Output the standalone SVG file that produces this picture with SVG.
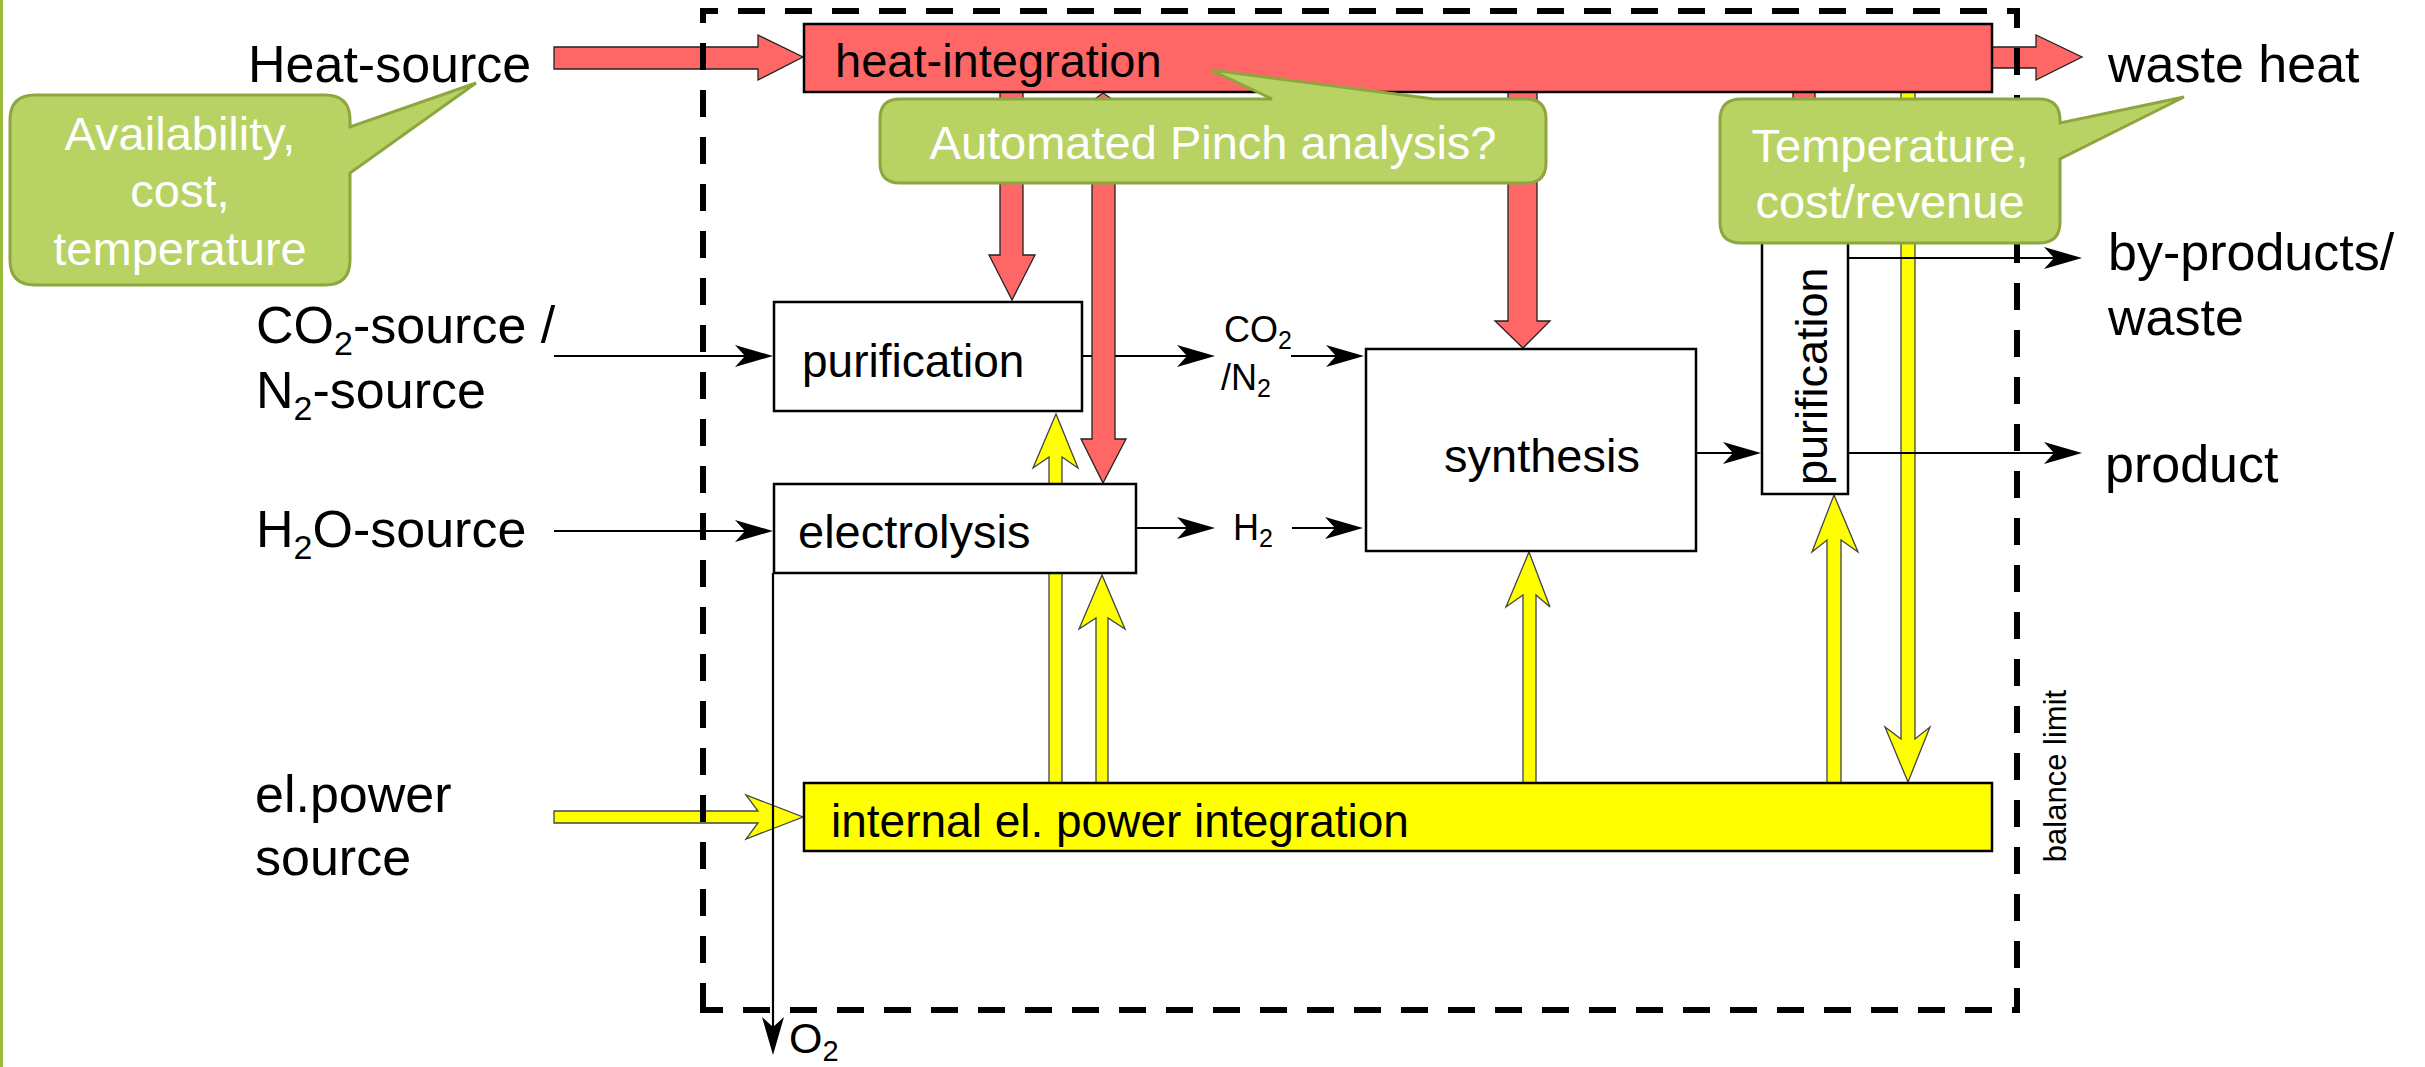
<svg xmlns="http://www.w3.org/2000/svg" width="2425" height="1067" viewBox="0 0 2425 1067">
<style>
  text { font-family: "Liberation Sans", Arial, sans-serif; fill: #000; }
  .lbl { font-size: 52px; }
  .box { fill: #fff; stroke: #000; stroke-width: 2.5; }
  .boxt { font-size: 47px; }
  .heat { fill: #ff6666; stroke: #222; stroke-width: 1.3; }
  .elec { fill: #ffff00; stroke: #444; stroke-width: 1.3; }
  .line { fill: none; stroke: #000; stroke-width: 2.2; marker-end: url(#ah); }
  .small { font-size: 36px; }
  .callout { fill: #b9d264; stroke: #8ea63f; stroke-width: 3; }
  .ct { fill: #fff; font-size: 47px; text-anchor: middle; }
</style>
<defs>
  <marker id="ah" markerUnits="userSpaceOnUse" markerWidth="60" markerHeight="30" viewBox="-50 -15 60 30" refX="-8" refY="0" orient="auto" overflow="visible">
    <path d="M0,0 L-38,-11 L-28,0 L-38,11 Z" fill="#000"/>
  </marker>
</defs>
<rect x="0" y="0" width="3" height="1067" fill="#9cbb3c"/>

<g id="connectors">
  <!-- electric power flows -->
  <polygon class="elec" points="554,811 758,811 746,795 803,817 746,839 758,823 554,823"/>
  <polygon class="elec" points="1049,783 1049,457 1033,468 1056,414 1078,468 1062,457 1062,783"/>
  <polygon class="elec" points="1096,783 1096,618 1079,629 1102,575 1125,629 1108,618 1108,783"/>
  <polygon class="elec" points="1523,783 1523,595 1506,607 1529,552 1550,607 1536,595 1536,783"/>
  <polygon class="elec" points="1827,783 1827,540 1812,552 1834,495 1858,552 1841,540 1841,783"/>
  <polygon class="elec" points="1901,92 1901,739 1885,727 1908,782 1930,727 1915,739 1915,92"/>
  <!-- material flows -->
  <path class="line" d="M554,356 H765"/>
  <path class="line" d="M554,531 H765"/>
  <path class="line" d="M1082,356 H1207"/>
  <path class="line" d="M1291,356 H1356"/>
  <path class="line" d="M1136,528 H1207"/>
  <path class="line" d="M1292,528 H1355"/>
  <path class="line" d="M1696,453 H1753"/>
  <path class="line" d="M1848,453 H2074"/>
  <path class="line" d="M1848,258 H2074"/>
  <path class="line" d="M773,573 V1047"/>
  <!-- heat flows -->
  <polygon class="heat" points="554,47 758,47 758,35 803,57 758,80 758,69 554,69"/>
  <polygon class="heat" points="1992,47 2036,47 2036,35 2082,57 2036,80 2036,68 1992,68"/>
  <polygon class="heat" points="1000,92 1000,255 989,255 1012,300 1035,255 1023,255 1023,92"/>
  <polygon class="heat" points="1092,439 1092,101 1103,93 1115,101 1115,439 1126,439 1103,483 1081,439"/>
  <polygon class="heat" points="1508,92 1508,321 1495,321 1523,348 1550,321 1537,321 1537,92"/>
  <polygon class="heat" points="1793,92 1793,236 1815,236 1815,92"/>
</g>

<g id="heat-integration">
  <rect x="804" y="24" width="1188" height="68" fill="#ff6666" stroke="#000" stroke-width="2.5"/>
  <text class="boxt" x="835" y="77">heat-integration</text>
</g>
<g id="power-integration">
  <rect x="804" y="783" width="1188" height="68" fill="#ffff00" stroke="#000" stroke-width="2.5"/>
  <text class="boxt" x="831" y="837" style="font-size:46px">internal el. power integration</text>
</g>
<g id="purification-1">
  <rect class="box" x="774" y="302" width="308" height="109"/>
  <text class="boxt" x="802" y="377" style="font-size:46px">purification</text>
</g>
<g id="electrolysis">
  <rect class="box" x="774" y="484" width="362" height="89"/>
  <text class="boxt" x="798" y="548">electrolysis</text>
</g>
<g id="synthesis">
  <rect class="box" x="1366" y="349" width="330" height="202"/>
  <text class="boxt" x="1444" y="472">synthesis</text>
</g>
<g id="purification-2">
  <rect class="box" x="1762" y="220" width="86" height="274"/>
  <text class="boxt" transform="translate(1827,485) rotate(-90)" style="font-size:45px">purification</text>
</g>
<g id="stream-labels">
  <text class="small" x="1224" y="342">CO<tspan font-size="25" dy="7">2</tspan></text>
  <text class="small" x="1221" y="390">/N<tspan font-size="25" dy="7">2</tspan></text>
  <text class="small" x="1233" y="540">H<tspan font-size="25" dy="7">2</tspan></text>
  <text x="789" y="1053" font-size="43">O<tspan font-size="29" dy="8">2</tspan></text>
</g>

<g id="balance-limit">
  <path d="M703,1010 V11 H2017 V1010 Z" fill="none" stroke="#000" stroke-width="6" stroke-dasharray="27 20"/>
  <text transform="translate(2066,776) rotate(-90)" font-size="31" text-anchor="middle">balance limit</text>
</g>

<g id="callout-source">
  <path class="callout" d="M35,95 H325 Q350,95 350,120 V127 L476,83 L350,173 V260 Q350,285 325,285 H35 Q10,285 10,260 V120 Q10,95 35,95 Z"/>
  <text class="ct" x="180" y="150">Availability,</text>
  <text class="ct" x="180" y="207">cost,</text>
  <text class="ct" x="180" y="265">temperature</text>
</g>
<g id="callout-pinch">
  <path class="callout" d="M900,99 H1272 L1211,70 L1434,99 H1526 Q1546,99 1546,119 V163 Q1546,183 1526,183 H900 Q880,183 880,163 V119 Q880,99 900,99 Z"/>
  <text class="ct" x="1213" y="159">Automated Pinch analysis?</text>
</g>
<g id="callout-waste">
  <path class="callout" d="M1741,99 H2039 Q2060,99 2060,120 V123 L2184,97 L2060,159 V222 Q2060,243 2039,243 H1741 Q1720,243 1720,222 V120 Q1720,99 1741,99 Z"/>
  <text class="ct" x="1890" y="162">Temperature,</text>
  <text class="ct" x="1890" y="218">cost/revenue</text>
</g>

<g id="sources">
  <text class="lbl" x="248" y="82">Heat-source</text>
  <text class="lbl" x="256" y="343">CO<tspan font-size="34" dy="12">2</tspan><tspan dy="-12">-source /</tspan></text>
  <text class="lbl" x="256" y="408">N<tspan font-size="34" dy="12">2</tspan><tspan dy="-12">-source</tspan></text>
  <text class="lbl" x="256" y="547">H<tspan font-size="34" dy="12">2</tspan><tspan dy="-12">O-source</tspan></text>
  <text class="lbl" x="255" y="812">el.power</text>
  <text class="lbl" x="255" y="875">source</text>
</g>
<g id="sinks">
  <text class="lbl" x="2108" y="82">waste heat</text>
  <text class="lbl" x="2108" y="270">by-products/</text>
  <text class="lbl" x="2108" y="335">waste</text>
  <text class="lbl" x="2105" y="482">product</text>
</g>
</svg>
